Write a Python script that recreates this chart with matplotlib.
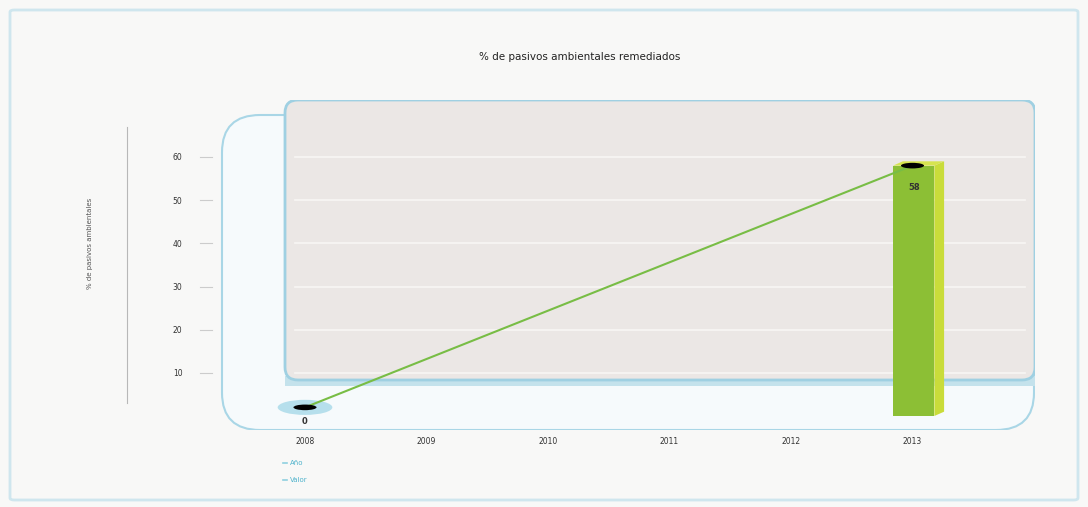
import numpy as np
import matplotlib
matplotlib.use('Agg')
import matplotlib.pyplot as plt
from matplotlib.patches import FancyBboxPatch, Polygon, Ellipse, Rectangle
from matplotlib.lines import Line2D

# data
years = ['2008', '2009', '2010', '2011', '2012', '2013']
line_years = [0, 5]          # index positions of the two values
line_values = [2, 58]
bar_year = 5
bar_value = 58
value_labels = ['0', '58']
y_ticks = [10, 20, 30, 40, 50, 60]
title = '% de pasivos ambientales remediados'
y_label = '% de pasivos ambientales'
legend_labels = ['Año', 'Valor']

W, H = 1088, 507
fig = plt.figure(figsize=(W / 100, H / 100), dpi=100, facecolor='#f8f8f7')

def fx(px):
    return px / W

def fy(py):
    return 1 - py / H

# outer frame of the whole picture
fig.patches.append(FancyBboxPatch((fx(10), fy(500)), fx(1068), fy(10) - fy(500),
                                  boxstyle='round,pad=0,rounding_size=0.004',
                                  transform=fig.transFigure, fc='none',
                                  ec='#cfe6ee', lw=2))

# axes placed so that 2008 sits at x=305 and 0..60 maps to y=416..157
ax_l, ax_r, ax_t, ax_b = 220, 1035, 100, 430
ax = fig.add_axes([fx(ax_l), fy(ax_b), fx(ax_r - ax_l), fy(ax_t) - fy(ax_b)])
ax.set_facecolor('none')
step = 121.5
ppu = (416 - 157) / 60.0
ax.set_xlim(-(305 - ax_l) / step, (ax_r - 305) / step)
ax.set_ylim(-(ax_b - 416) / ppu, (416 - ax_t) / ppu)
for s in ax.spines.values():
    s.set_visible(False)

# outer (lower) rounded box
ax.add_patch(FancyBboxPatch((fx(222), fy(430)), fx(812), fy(115) - fy(430),
                            boxstyle='round,pad=0,rounding_size=0.035',
                            transform=fig.transFigure, fc='#f6fafc',
                            ec='#a9d6e6', lw=1.5, zorder=0.5, mutation_aspect=2.1))
# inner grey plot box
ax.add_patch(FancyBboxPatch((fx(285), fy(380)), fx(750), fy(100) - fy(380),
                            boxstyle='round,pad=0,rounding_size=0.012',
                            transform=fig.transFigure, fc='#ebe7e5',
                            ec='#9fd0e2', lw=2, zorder=0.6, mutation_aspect=2.1))
# light blue band below inner box
ax.add_patch(Rectangle((fx(285), fy(386)), fx(750), fy(376) - fy(386),
                       transform=fig.transFigure, fc='#c4e2ec', ec='none', zorder=0.55))

# horizontal grid lines inside the grey box
for v in y_ticks:
    ax.plot([(295 - 305) / step, (1025 - 305) / step], [v, v],
            color='#f8f6f4', lw=1.2, zorder=0.8)

# bar with a fake 3d side
bw = 0.34
bx = bar_year - 0.16
ax.bar(bx, bar_value, width=bw, align='edge', color='#8cbf35', zorder=2)
side = 0.08
ax.add_patch(Polygon([[bx + bw, 0], [bx + bw + side, 1], [bx + bw + side, bar_value + 1],
                      [bx + bw, bar_value]], closed=True, fc='#c9dc3a', ec='none', zorder=2))
ax.add_patch(Polygon([[bx, bar_value], [bx + side, bar_value + 1],
                      [bx + bw + side, bar_value + 1], [bx + bw, bar_value]],
                     closed=True, fc='#d6e44f', ec='none', zorder=2))

# glow behind first marker
ax.add_patch(Ellipse((line_years[0], line_values[0]), 0.45, 3.5,
                     fc='#a6d9e8', ec='none', alpha=0.8, zorder=2.5))

ax.plot(line_years, line_values, color='#78bd45', lw=1.5, zorder=3)
for xv, yv in zip(line_years, line_values):
    ax.add_patch(Ellipse((xv, yv), 0.19, 1.3, fc='black', ec='none', zorder=4))

ax.text(line_years[0], line_values[0] - 3.2, value_labels[0], ha='center', va='center',
        fontsize=6, color='#333333', fontweight='bold', zorder=5)
ax.text(bar_year + 0.01, bar_value - 5, value_labels[1], ha='center', va='center',
        fontsize=6, color='#333333', fontweight='bold', zorder=5)

ax.set_xticks(range(len(years)))
ax.set_xticklabels(years, fontsize=5.5, color='#333333')
ax.tick_params(axis='x', length=0, pad=5)
ax.set_yticks(y_ticks)
ax.set_yticklabels([str(v) for v in y_ticks], fontsize=5.5, color='#333333')
ax.tick_params(axis='y', length=0, pad=27)

# small tick dashes left of the box
for v in y_ticks:
    ax.plot([(200 - 305) / step, (212 - 305) / step], [v, v], color='#cccccc',
            lw=0.8, clip_on=False, zorder=1)

# vertical rule and y label
fig.add_artist(Line2D([fx(127), fx(127)], [fy(403), fy(127)], color='#b8b8b8', lw=0.8))
fig.text(fx(90), fy(243), y_label, rotation=90, ha='center', va='center',
         fontsize=5, color='#555555')

fig.text(fx(580), fy(57), title, ha='center', va='center', fontsize=7.5, color='#222222')

# legend
for i, lab in enumerate(legend_labels):
    yy = fy(463 + i * 17)
    fig.add_artist(Line2D([fx(283), fx(287)], [yy, yy], color='#8fd0e0', lw=1.2))
    fig.text(fx(290), yy, lab, ha='left', va='center', fontsize=5, color='#4fb3cc')

fig.savefig('out.png', dpi=100, facecolor=fig.get_facecolor())
